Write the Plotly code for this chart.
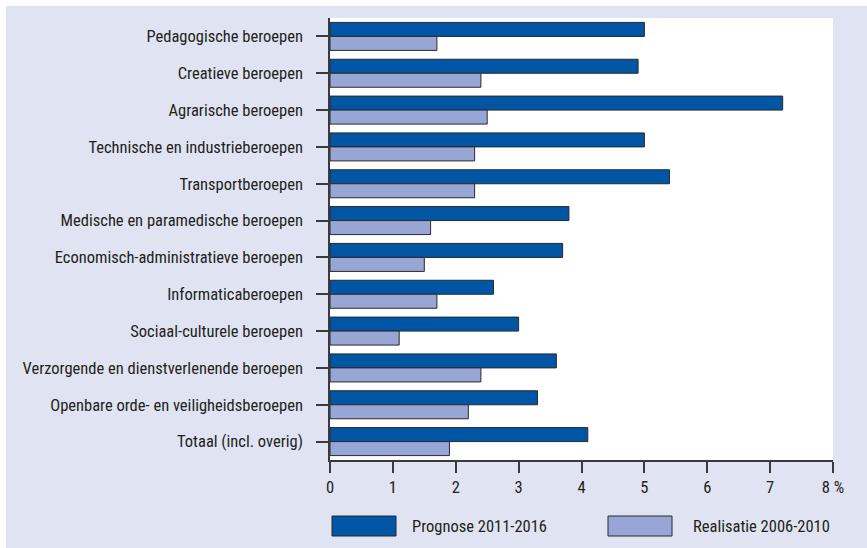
import plotly.graph_objects as go

categories = [
    "Pedagogische beroepen",
    "Creatieve beroepen",
    "Agrarische beroepen",
    "Technische en industrieberoepen",
    "Transportberoepen",
    "Medische en paramedische beroepen",
    "Economisch-administratieve beroepen",
    "Informaticaberoepen",
    "Sociaal-culturele beroepen",
    "Verzorgende en dienstverlenende beroepen",
    "Openbare orde- en veiligheidsberoepen",
    "Totaal (incl. overig)",
]
prognose = [5.0, 4.9, 7.2, 5.0, 5.4, 3.8, 3.7, 2.6, 3.0, 3.6, 3.3, 4.1]
realisatie = [1.7, 2.4, 2.5, 2.3, 2.3, 1.6, 1.5, 1.7, 1.1, 2.4, 2.2, 1.9]
series_names = ["Prognose 2011-2016", "Realisatie 2006-2010"]
x_tickvals = [0, 1, 2, 3, 4, 5, 6, 7, 8]
x_ticktext = ["0", "1", "2", "3", "4", "5", "6", "7", "8 %"]

DARK = "#0055a4"
LIGHT = "#97a6d5"
OUTLINE = "#2a2a2a"
BG = "#dfe3f2"
TEXT = "#231f20"
FONT = "Roboto Condensed, sans-serif"
FS = 16.5

fig = go.Figure()
for name, vals, col in [(series_names[0], prognose, DARK), (series_names[1], realisatie, LIGHT)]:
    fig.add_trace(go.Bar(
        y=categories, x=vals, name=name, orientation="h",
        marker=dict(color=col, line=dict(color=OUTLINE, width=1)),
        showlegend=False,
    ))

W, H = 867, 548
L, R, T, B = 330, 34, 18, 88
pw, ph = W - L - R, H - T - B

def px(xp):
    return (xp - L) / pw

def py(yp):
    return (H - B - yp) / ph

shapes = [
    dict(type="rect", xref="paper", yref="paper", x0=px(-2), x1=px(6), y0=py(H + 2), y1=py(-2),
         fillcolor="white", line=dict(width=0), layer="below"),
    dict(type="rect", xref="paper", yref="paper", x0=px(-2), x1=px(W + 2), y0=py(6), y1=py(-2),
         fillcolor="white", line=dict(width=0), layer="below"),
]
annotations = []
legend_items = [(series_names[0], DARK, 332, 396, 410), (series_names[1], LIGHT, 608, 672, 691)]
for name, col, bx0, bx1, tx in legend_items:
    shapes.append(dict(type="rect", xref="paper", yref="paper", x0=px(bx0), x1=px(bx1),
                       y0=py(536), y1=py(516), fillcolor=col, line=dict(color=OUTLINE, width=1)))
    annotations.append(dict(xref="paper", yref="paper", x=px(tx), y=py(526), text=name,
                            showarrow=False, xanchor="left", yanchor="middle",
                            font=dict(size=FS, color=TEXT, family=FONT)))

fig.update_layout(
    width=W, height=H,
    margin=dict(l=L, r=R, t=T, b=B),
    paper_bgcolor=BG, plot_bgcolor="white",
    barmode="group", bargap=0.24, bargroupgap=0,
    font=dict(family=FONT, size=FS, color=TEXT),
    shapes=shapes, annotations=annotations,
    xaxis=dict(range=[0, 8], tickvals=x_tickvals, ticktext=x_ticktext, showgrid=False,
               zeroline=False, showline=True, linecolor="#3a3a3a", linewidth=1.5,
               ticks="outside", ticklen=11, tickcolor="#3a3a3a", tickwidth=1.5,
               fixedrange=True),
    yaxis=dict(categoryorder="array", categoryarray=categories, autorange="reversed",
               showgrid=False, zeroline=False, showline=True, linecolor="#3a3a3a", linewidth=1.5,
               ticks="outside", ticklen=12, tickcolor="#3a3a3a", tickwidth=1.5,
               ticklabelstandoff=10, fixedrange=True),
)

fig.write_html(
    "out.html", config={"displayModeBar": False},
    post_script=("document.body.style.margin='0';document.body.style.overflow='hidden';"
                 "document.body.style.background='" + BG + "';"
                 "document.documentElement.style.background='" + BG + "';"),
)
